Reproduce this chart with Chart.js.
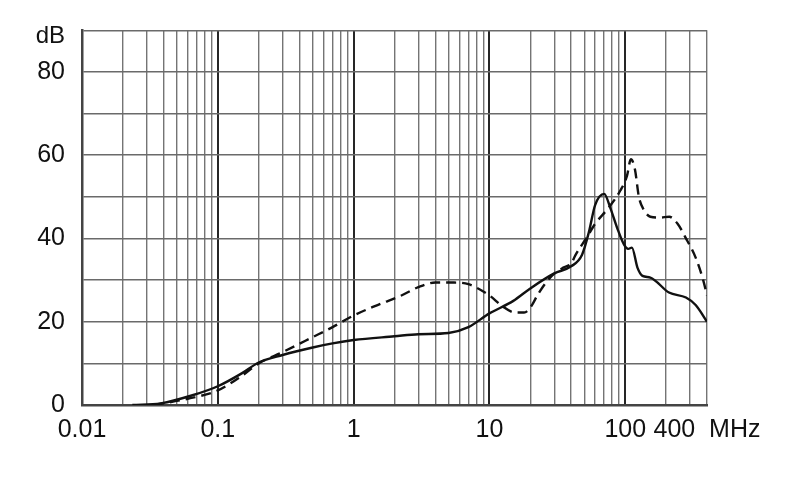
<!DOCTYPE html>
<html><head><meta charset="utf-8">
<script src="https://cdn.jsdelivr.net/npm/chart.js@4/dist/chart.umd.min.js"></script>
<style>html,body{margin:0;padding:0;background:#fff}#wrap{width:790px;height:499px}</style>
</head><body><div id="wrap"><canvas id="c" width="790" height="499"></canvas></div>
<script>
// Solid curve (frequency in MHz, level in dB)
const solidFreq = [0.0235,0.038,0.066,0.1,0.15,0.2,0.3,0.5,0.7,1,2,3,5,7,10,15,20,30,40,48,54,60,70,77.5,87,98,105,112,123,134,153,210,280,330,400];
const solidDb   = [0,0.4,2.4,4.5,7.6,10.2,12,13.8,14.8,15.6,16.5,17,17.3,18.7,22,25,28,31.6,33.3,36,41.5,48,50.7,47.4,42.6,38.5,37.5,37.8,33,31,30.6,27,25.8,24,20];
// Dashed curve
const dashedFreq = [0.034,0.06,0.1,0.15,0.2,0.3,0.5,0.7,1,1.5,2.25,3,4,5.5,7,10,12.5,15.5,18,20,23,28,35,40,43,52,60,76,92,103,110,118,126,138,153,178,211,243,278,330,375,400];
const dashedDb   = [0,1.5,3.5,7,10,12.7,16.3,18.7,21.5,24,26.3,28.3,29.4,29.4,29,26.3,23.7,22.2,22.2,23.4,26.8,30.6,33,34,36,40.2,43.5,47.5,51.5,55,59,56.5,50,46.7,45.2,45,45.2,43.5,40.2,35.4,30,26.3];

const xTickValues = [0.01,0.1,1,10,100,400];
const xTickLabels = ['0.01','0.1','1','10','100','400  MHz'];
const decades = [0.01,0.1,1,10,100];
const yTickValues = [0,20,40,60,80,90];
const yTickLabels = ['0','20','40','60','80',['','dB']];

const gridFreqs = [];
decades.forEach(d => { for (let m = 1; m <= 9; m++) { const v = d*m; if (v <= 400) gridFreqs.push(v); } });
if (!gridFreqs.includes(400)) gridFreqs.push(400);

const FONT = 'Liberation Sans';
const ctx = document.getElementById('c').getContext('2d');
new Chart(ctx, {
  type: 'line',
  data: {
    datasets: [
      { data: solidFreq.map((f,i)=>({x:f,y:solidDb[i]})), borderColor:'#111', borderWidth:2.4, pointRadius:0, fill:false, cubicInterpolationMode:'monotone' },
      { data: dashedFreq.map((f,i)=>({x:f,y:dashedDb[i]})), borderColor:'#111', borderWidth:2.4, borderDash:[10,6], pointRadius:0, fill:false, cubicInterpolationMode:'monotone' }
    ]
  },
  options: {
    responsive:false, devicePixelRatio:1, animation:false,
    layout:{padding:{left:0,top:29,right:83,bottom:0}},
    plugins:{legend:{display:false}, tooltip:{enabled:false}},
    scales:{
      x:{
        type:'logarithmic', min:0.01, max:400,
        afterBuildTicks: s => { s.ticks = gridFreqs.map(v=>({value:v})); },
        afterFit: s => { s.height = 94; },
        ticks:{autoSkip:false, maxRotation:0, minRotation:0, padding:10, color:'#111',
          font:{family:FONT,size:25},
          callback:(v)=>{ const i = xTickValues.indexOf(v); return i>=0 ? xTickLabels[i] : ''; }},
        grid:{drawTicks:false,
          color: c => (c.tick && decades.includes(c.tick.value)) ? '#262626' : '#747474',
          lineWidth: c => (c.tick && decades.includes(c.tick.value)) ? 2 : 1.4},
        border:{color:'#444', width:2.5}
      },
      y:{
        min:0, max:90,
        afterFit: s => { s.width = 82; },
        ticks:{stepSize:10, padding:17, color:'#111',
          font: c => (c.tick && c.tick.value === 90) ? {family:FONT,size:24,lineHeight:0.55} : {family:FONT,size:25},
          callback:(v)=>{ const i = yTickValues.indexOf(v); return i>=0 ? yTickLabels[i] : ''; }},
        grid:{drawTicks:false, color:'#6a6a6a', lineWidth:1.4},
        border:{color:'#444', width:2.5}
      }
    }
  }
});
</script></body></html>
